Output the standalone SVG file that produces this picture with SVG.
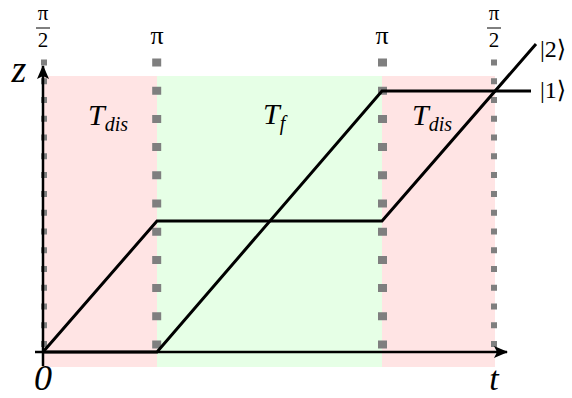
<svg xmlns="http://www.w3.org/2000/svg" width="572" height="398" viewBox="0 0 572 398">
<style>
.m{font-style:italic}
.thin{stroke:#7f7f7f;stroke-width:6;stroke-dasharray:6 12.77;fill:none}
.thick{stroke:#7f7f7f;stroke-width:9;stroke-dasharray:8 20.2;fill:none}
.curve{stroke:#000;stroke-width:3;fill:none;stroke-linejoin:miter}
.axis{stroke:#000;stroke-width:2.5;fill:none}
</style>
<defs>
<marker id="ah" viewBox="0 0 14 12" refX="13" refY="6" markerWidth="14" markerHeight="12" markerUnits="userSpaceOnUse" orient="auto">
<path d="M0,0 L14,6 L0,12 L3,6 Z" fill="#000"/>
</marker>
</defs>
<g id="regions">
<rect x="44" y="76" width="113" height="291" fill="#ffe4e4"/>
<rect x="157" y="76" width="225" height="291" fill="#e6ffe6"/>
<rect x="382" y="76" width="113" height="291" fill="#ffe4e4"/>
</g>
<g id="guides">
<line class="thin" x1="44" y1="59.5" x2="44" y2="350"/>
<line class="thick" x1="156.7" y1="58.5" x2="156.7" y2="352"/>
<line class="thick" x1="382.5" y1="58.5" x2="382.5" y2="352"/>
<line class="thin" x1="494" y1="59.5" x2="494" y2="350"/>
</g>
<g id="connectors">
<line class="axis" x1="43" y1="366" x2="43" y2="66" marker-end="url(#ah)"/>
<line class="axis" x1="35" y1="352" x2="507" y2="352" marker-end="url(#ah)"/>
<polyline class="curve" points="43,352 157,221 382,221 536,44"/>
<polyline class="curve" points="43,352 157,352 382,91 531,91"/>
</g>
<g id="labels" font-family="Liberation Serif, Times New Roman, DejaVu Serif, serif" fill="#000">
<text class="m" x="19" y="82" font-size="38" text-anchor="middle">z</text>
<text class="m" x="43" y="390" font-size="36" text-anchor="middle">0</text>
<text class="m" x="494" y="390" font-size="34" text-anchor="middle">t</text>
<text class="m" x="88" y="125" font-size="30">T<tspan font-size="20" dy="6">dis</tspan></text>
<text class="m" x="263" y="124" font-size="30">T<tspan font-size="20" dy="6">f</tspan></text>
<text class="m" x="412" y="125" font-size="30">T<tspan font-size="20" dy="6">dis</tspan></text>
<text x="540" y="57" font-size="24">|2⟩</text>
<text x="540" y="98" font-size="24">|1⟩</text>
<g id="pi-half-left">
<text x="43" y="20" font-size="21" text-anchor="middle">π</text>
<line x1="36" y1="28" x2="50" y2="28" stroke="#000" stroke-width="1"/>
<text x="43" y="47" font-size="21" text-anchor="middle">2</text>
</g>
<text x="157" y="44" font-size="26" text-anchor="middle">π</text>
<text x="382" y="44" font-size="26" text-anchor="middle">π</text>
<g id="pi-half-right">
<text x="494" y="20" font-size="21" text-anchor="middle">π</text>
<line x1="487" y1="28" x2="501" y2="28" stroke="#000" stroke-width="1"/>
<text x="494" y="47" font-size="21" text-anchor="middle">2</text>
</g>
</g>
</svg>
